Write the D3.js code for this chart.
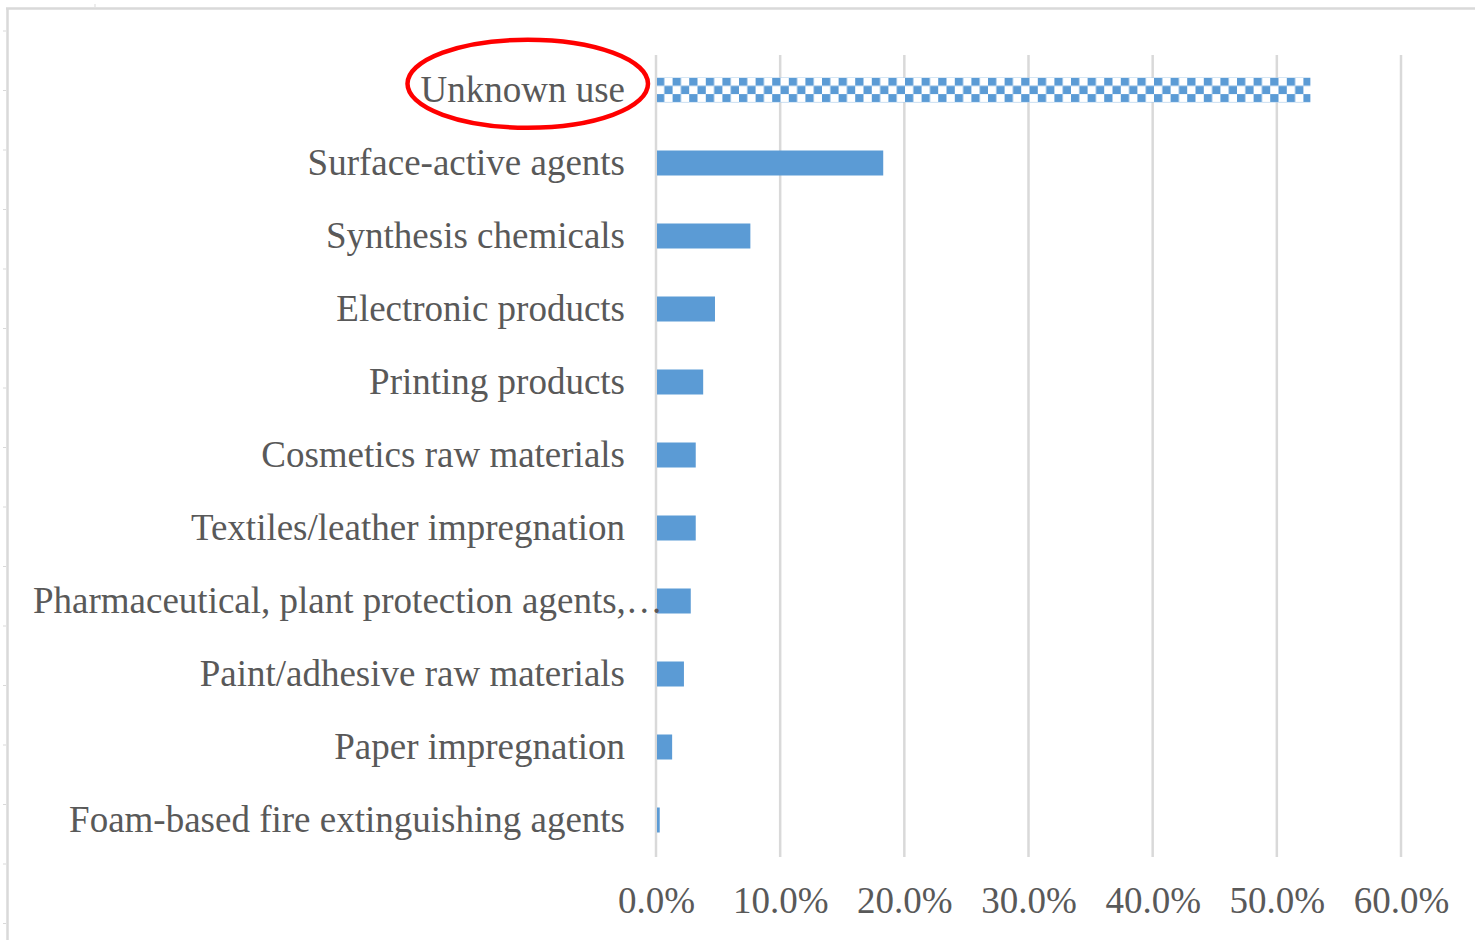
<!DOCTYPE html>
<html>
<head>
<meta charset="utf-8">
<script src="https://cdn.jsdelivr.net/npm/d3@7"></script>
<style>
  html, body { margin: 0; padding: 0; background: #ffffff; }
  svg { display: block; }
</style>
</head>
<body>
<svg id="chart" width="1475" height="940"></svg>
<script>
// ---- data ----
const categories = [
  "Unknown use",
  "Surface-active agents",
  "Synthesis chemicals",
  "Electronic products",
  "Printing products",
  "Cosmetics raw materials",
  "Textiles/leather impregnation",
  "Pharmaceutical, plant protection agents,\u2026",
  "Paint/adhesive raw materials",
  "Paper impregnation",
  "Foam-based fire extinguishing agents"
];
const shares = [0.527, 0.183, 0.076, 0.0475, 0.038, 0.032, 0.032, 0.028, 0.0225, 0.013, 0.003];
const patterned = ["Unknown use"];
const highlighted = ["Unknown use"];
const xTicks = [0, 0.1, 0.2, 0.3, 0.4, 0.5, 0.6];

// ---- layout ----
const W = 1475, H = 940;
const svg = d3.select("#chart");
const fontFamily = "'Liberation Serif', 'Times New Roman', serif";
const textColor = "#595959";
const gridColor = "#d9d9d9";
const barColor = "#5b9bd5";

const x = d3.scaleLinear().domain([0, 0.6]).range([656, 1401]);
const y = d3.scaleBand().domain(categories).range([53.5, 856.5])
  .paddingInner(0.6575).paddingOuter(0.6575 / 2);

// frame (cropped chart area border)
const frame = svg.append("g").attr("stroke", gridColor).attr("fill", "none");
frame.append("line").attr("x1", 6).attr("x2", W).attr("y1", 8.5).attr("y2", 8.5).attr("stroke-width", 2.5);
frame.append("line").attr("x1", 7.5).attr("x2", 7.5).attr("y1", 8).attr("y2", H).attr("stroke-width", 2.5);
const edgeTicks = d3.range(31, 935, 59.5);
frame.selectAll("line.et").data(edgeTicks).join("line").attr("class", "et")
  .attr("x1", 3).attr("x2", 6).attr("y1", d => d).attr("y2", d => d).attr("stroke-width", 1);
frame.append("line").attr("x1", 95).attr("x2", 95).attr("y1", 4).attr("y2", 7).attr("stroke-width", 1);

// checker pattern
const defs = svg.append("defs");
const bandTop = y(patterned[0]);
const pat = defs.append("pattern").attr("id", "checker")
  .attr("patternUnits", "userSpaceOnUse")
  .attr("x", x(0)).attr("y", bandTop)
  .attr("width", 16.6).attr("height", 16.6);
pat.append("rect").attr("width", 16.6).attr("height", 16.6).attr("fill", "#ffffff");
pat.append("rect").attr("x", 0).attr("y", 0).attr("width", 8.3).attr("height", 8.3).attr("fill", barColor);
pat.append("rect").attr("x", 8.3).attr("y", 8.3).attr("width", 8.3).attr("height", 8.3).attr("fill", barColor);

// gridlines
svg.append("g").selectAll("line").data(xTicks).join("line")
  .attr("x1", d => x(d)).attr("x2", d => x(d))
  .attr("y1", 55).attr("y2", 857)
  .attr("stroke", gridColor).attr("stroke-width", 2.5);

// bars
const data = categories.map((c, i) => ({ c, v: shares[i] }));
svg.append("g").selectAll("rect").data(data).join("rect")
  .attr("x", x(0) + 1)
  .attr("y", d => y(d.c))
  .attr("width", d => x(d.v) - x(0) - 1)
  .attr("height", y.bandwidth())
  .attr("fill", d => patterned.includes(d.c) ? "url(#checker)" : barColor);

// x axis tick labels
const xAxis = d3.axisBottom(x).tickValues(xTicks).tickFormat(d3.format(".1%")).tickSize(0).tickPadding(0);
const gx = svg.append("g").attr("transform", "translate(0,884)").call(xAxis);
gx.select(".domain").remove();
gx.selectAll("text")
  .attr("fill", textColor).attr("font-family", fontFamily).attr("font-size", 37)
  .attr("dy", "0.78em");

// category labels
const labelRight = 625, labelLeft = 33;
const gy = svg.append("g");
gy.selectAll("text").data(categories).join("text")
  .attr("x", labelRight)
  .attr("y", d => y(d) + y.bandwidth() / 2)
  .attr("dy", "0.33em")
  .attr("text-anchor", "end")
  .attr("fill", textColor).attr("font-family", fontFamily).attr("font-size", 37)
  .text(d => d)
  .each(function () {
    const w = this.getComputedTextLength();
    if (labelRight - w < labelLeft) {
      d3.select(this).attr("text-anchor", "start").attr("x", labelLeft);
    }
  });

// highlight ellipse
gy.selectAll("text").filter(d => highlighted.includes(d)).each(function () {
  const b = this.getBBox();
  svg.append("ellipse")
    .attr("cx", b.x + b.width / 2 + 5)
    .attr("cy", b.y + b.height / 2 - 6)
    .attr("rx", b.width / 2 + 18)
    .attr("ry", 44)
    .attr("fill", "none").attr("stroke", "#ff0000").attr("stroke-width", 4.5);
});
</script>
</body>
</html>
